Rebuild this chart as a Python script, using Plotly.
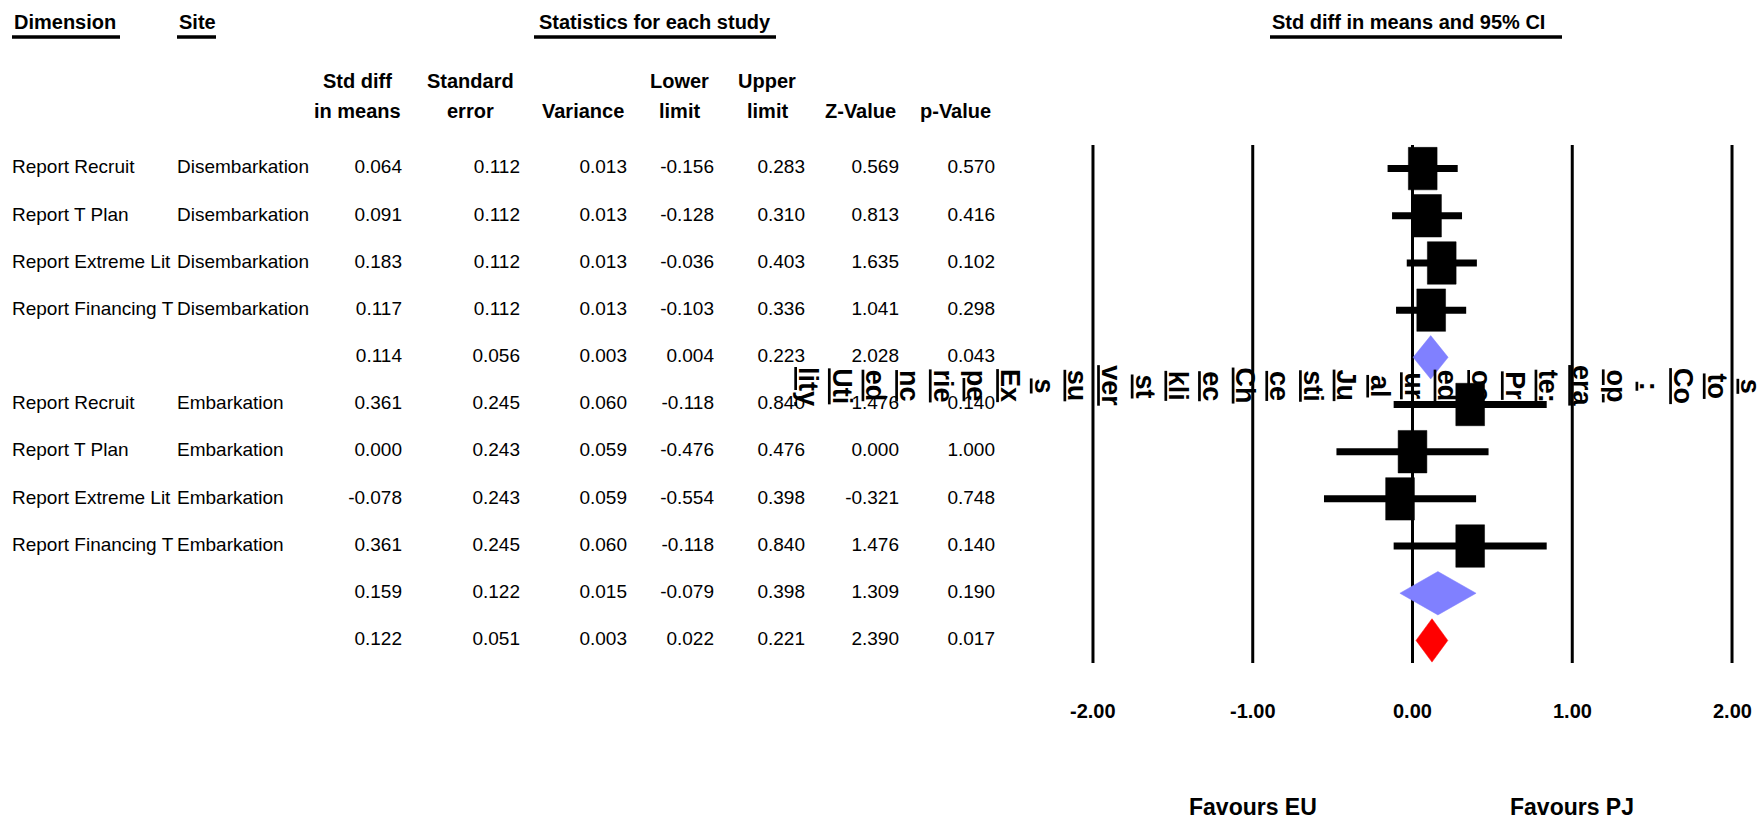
import plotly.graph_objects as go

W, H = 1762, 824

# ---------------- data ----------------
dimension = ["Report Recruit", "Report T Plan", "Report Extreme Lit", "Report Financing T", "",
             "Report Recruit", "Report T Plan", "Report Extreme Lit", "Report Financing T", "", ""]
site = ["Disembarkation"] * 4 + [""] + ["Embarkation"] * 4 + ["", ""]
std_diff = [0.064, 0.091, 0.183, 0.117, 0.114, 0.361, 0.000, -0.078, 0.361, 0.159, 0.122]
std_err = [0.112, 0.112, 0.112, 0.112, 0.056, 0.245, 0.243, 0.243, 0.245, 0.122, 0.051]
variance = [0.013, 0.013, 0.013, 0.013, 0.003, 0.060, 0.059, 0.059, 0.060, 0.015, 0.003]
lower = [-0.156, -0.128, -0.036, -0.103, 0.004, -0.118, -0.476, -0.554, -0.118, -0.079, 0.022]
upper = [0.283, 0.310, 0.403, 0.336, 0.223, 0.840, 0.476, 0.398, 0.840, 0.398, 0.221]
z_value = [0.569, 0.813, 1.635, 1.041, 2.028, 1.476, 0.000, -0.321, 1.476, 1.309, 2.390]
p_value = [0.570, 0.416, 0.102, 0.298, 0.043, 0.140, 1.000, 0.748, 0.140, 0.190, 0.017]
row_type = ["study"] * 4 + ["subgroup"] + ["study"] * 4 + ["subgroup", "overall"]

tick_vals = [-2, -1, 0, 1, 2]
tick_labels = ["-2.00", "-1.00", "0.00", "1.00", "2.00"]
favours_x = [-1, 1]
favours_labels = ["Favours EU", "Favours PJ"]

col_headers = [("Std diff", "in means"), ("Standard", "error"), ("", "Variance"),
               ("Lower", "limit"), ("Upper", "limit"), ("", "Z-Value"), ("", "p-Value")]
title_fragments = ["lity", "Uti", "ed", "nc", "rie", "pe", "Ex", "s", "su", "ver", "st", "kli",
                   "ec", "Ch", "ce", "sti", "Ju", "al", "ur", "ed", "oc", "Pr", "te:", "era",
                   "op", ":", "Co", "to", "s"]

rows = list(range(1, len(std_diff) + 1))

FONT = "Liberation Sans, Arial, sans-serif"


def px(xp):
    return xp / W


def py(yp):
    return 1 - yp / H


fig = go.Figure()

# ---------------- table (x2 axis in pixel units) ----------------
fmt = lambda v: f"{v:.3f}"
body_font = dict(family=FONT, size=19, color="black")
fig.add_trace(go.Scatter(x=[12] * len(rows), y=rows, text=dimension, mode="text",
                         textposition="middle right", xaxis="x2", yaxis="y",
                         textfont=body_font, cliponaxis=False, hoverinfo="skip"))
fig.add_trace(go.Scatter(x=[177] * len(rows), y=rows, text=site, mode="text",
                         textposition="middle right", xaxis="x2", yaxis="y",
                         textfont=body_font, cliponaxis=False, hoverinfo="skip"))
num_cols = [std_diff, std_err, variance, lower, upper, z_value, p_value]
col_right = [402, 520, 627, 714, 805, 899, 995]
for vals, xr in zip(num_cols, col_right):
    fig.add_trace(go.Scatter(x=[xr] * len(rows), y=rows, text=[fmt(v) for v in vals],
                             mode="text", textposition="middle left", xaxis="x2", yaxis="y",
                             textfont=body_font, cliponaxis=False, hoverinfo="skip"))

# ---------------- forest plot ----------------
study_idx = [i for i, t in enumerate(row_type) if t == "study"]
ci_x, ci_y = [], []
for i in study_idx:
    ci_x += [lower[i], upper[i], None]
    ci_y += [rows[i], rows[i], None]
fig.add_trace(go.Scatter(x=ci_x, y=ci_y, mode="lines", line=dict(color="black", width=7),
                         hoverinfo="skip"))

bw, bh = 0.09, 0.45
bx, by = [], []
for i in study_idx:
    e, r = std_diff[i], rows[i]
    bx += [e - bw, e + bw, e + bw, e - bw, e - bw, None]
    by += [r - bh, r - bh, r + bh, r + bh, r - bh, None]
fig.add_trace(go.Scatter(x=bx, y=by, mode="lines", fill="toself", fillcolor="black",
                         line=dict(color="black", width=0.5), hoverinfo="skip"))

dh = 0.46
for kind, color in (("subgroup", "#8080FF"), ("overall", "#FF0000")):
    dx, dy = [], []
    for i, t in enumerate(row_type):
        if t != kind:
            continue
        r = rows[i]
        dx += [lower[i], std_diff[i], upper[i], std_diff[i], lower[i], None]
        dy += [r, r - dh, r, r + dh, r, None]
    fig.add_trace(go.Scatter(x=dx, y=dy, mode="lines", fill="toself", fillcolor=color,
                             line=dict(color=color, width=0.5), hoverinfo="skip"))

shapes = []
for tv in tick_vals:
    shapes.append(dict(type="line", xref="x", yref="y", x0=tv, x1=tv, y0=0.45, y1=11.48,
                       line=dict(color="black", width=3), layer="below"))

annotations = []
for tv, tl in zip(tick_vals, tick_labels):
    annotations.append(dict(x=tv, y=py(711), xref="x", yref="paper", text=f"<b>{tl}</b>",
                            showarrow=False, xanchor="center", yanchor="middle",
                            font=dict(family=FONT, size=20, color="black")))
for fx, fl in zip(favours_x, favours_labels):
    annotations.append(dict(x=fx, y=py(807), xref="x", yref="paper", text=f"<b>{fl}</b>",
                            showarrow=False, xanchor="center", yanchor="middle",
                            font=dict(family=FONT, size=23, color="black")))

# ---------------- headers ----------------
top_headers = [("Dimension", 12, "left", 12, 120),
               ("Site", 177, "left", 177, 216),
               ("Statistics for each study", 655, "center", 534, 776),
               ("Std diff in means and 95% CI", 1408, "center", 1270, 1562)]
for text, hx, anchor, u0, u1 in top_headers:
    annotations.append(dict(x=px(hx), y=py(22), xref="paper", yref="paper",
                            text=f"<b>{text}</b>", showarrow=False, xanchor=anchor,
                            yanchor="middle", font=dict(family=FONT, size=20, color="black")))
    shapes.append(dict(type="line", xref="paper", yref="paper", x0=px(u0), x1=px(u1),
                       y0=py(37), y1=py(37), line=dict(color="black", width=3.5)))

col_centers = [357, 470, 583, 679, 767, 860, 955]
for (l1, l2), cx in zip(col_headers, col_centers):
    if l1:
        annotations.append(dict(x=px(cx), y=py(81), xref="paper", yref="paper",
                                text=f"<b>{l1}</b>", showarrow=False, xanchor="center",
                                yanchor="middle", font=dict(family=FONT, size=20, color="black")))
    annotations.append(dict(x=px(cx), y=py(111), xref="paper", yref="paper",
                            text=f"<b>{l2}</b>", showarrow=False, xanchor="center",
                            yanchor="middle", font=dict(family=FONT, size=20, color="black")))

# ---------------- rotated, wrapped title fragments ----------------
for k, frag in enumerate(title_fragments):
    annotations.append(dict(x=px(808 + k * 33.65), y=py(386), xref="paper", yref="paper",
                            text=f"<b><span style='text-decoration:underline'>{frag}</span></b>",
                            textangle=90, showarrow=False, xanchor="center", yanchor="middle",
                            font=dict(family=FONT, size=27, color="black")))

fig.update_layout(
    width=W, height=H, margin=dict(l=0, r=0, t=0, b=0),
    paper_bgcolor="white", plot_bgcolor="white", showlegend=False,
    xaxis=dict(domain=[px(1077), px(1748)], range=[-2.1, 2.1], visible=False, fixedrange=True),
    xaxis2=dict(domain=[0, px(1050)], range=[0, 1050], visible=False, anchor="y", fixedrange=True),
    yaxis=dict(domain=[py(664), py(145)], range=[11.5, 0.5], visible=False, fixedrange=True),
    shapes=shapes, annotations=annotations,
)

fig.write_html("out.html")
